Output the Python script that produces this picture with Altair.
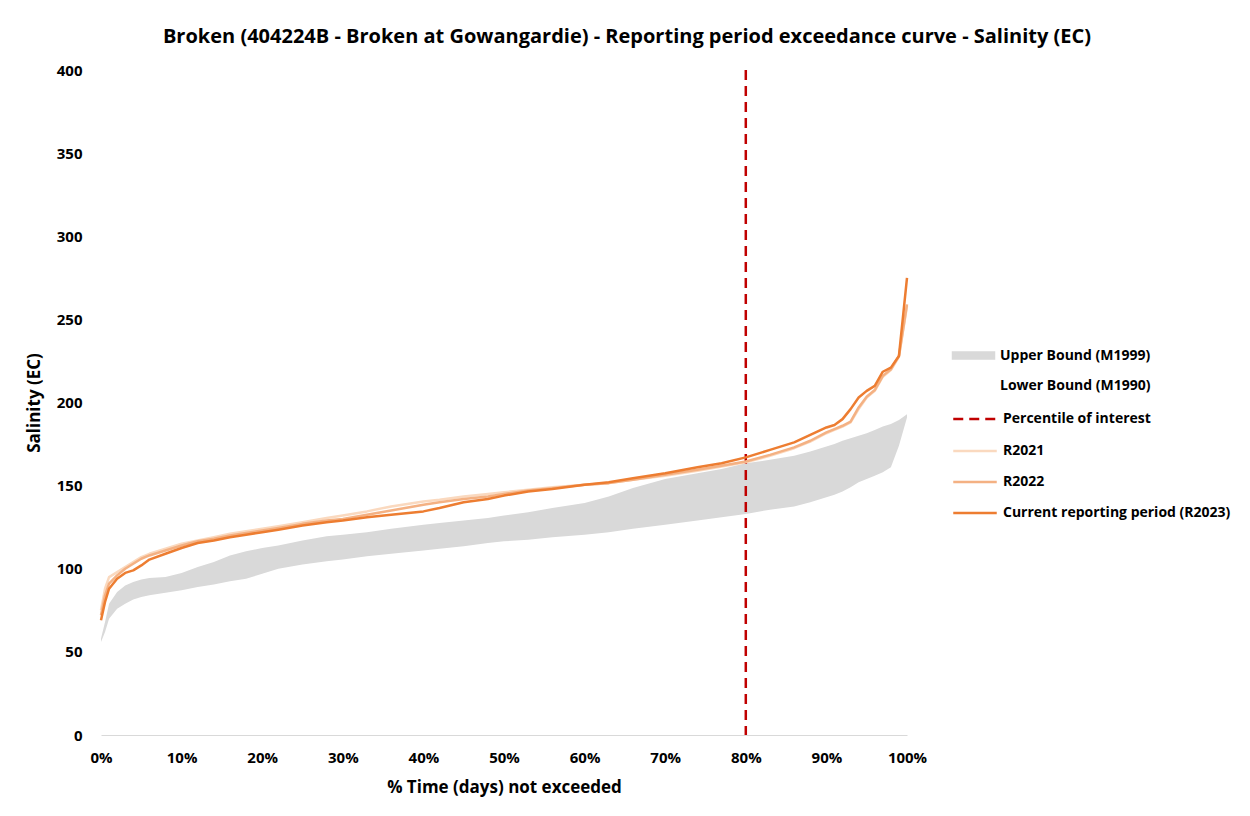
import altair as alt
import pandas as pd

pct = [0, 0.5, 1, 2, 3, 4, 5, 6, 8, 10, 12, 14, 16, 18, 20, 22, 25, 28, 30, 33, 36, 40, 42, 45,
       48, 50, 53, 56, 60, 63, 66, 70, 74, 77, 80, 83, 86, 88, 90, 91, 92, 93, 94, 95, 96, 97,
       98, 99, 100]

upper_m1999 = [58, 68, 79, 86, 90, 92, 93.5, 94.5, 95, 97.5, 101, 104, 108, 110.5, 112.5, 114,
               117, 119.5, 120.5, 122, 124, 126.5, 127.5, 129, 130.5, 132, 134, 136.5, 139.5, 143.5,
               148.5, 154, 157.5, 160, 163.5, 165.5, 168, 170.5, 173.5, 175, 177, 178.5, 180, 181.5,
               183.5, 185.5, 187, 189.5, 193]

lower_m1990 = [56, 62, 70, 76, 79, 81.5, 83, 84, 85.5, 87, 89, 90.5, 92.5, 94, 97, 100, 102.5,
               104.5, 105.5, 107.5, 109, 111, 112, 113.5, 115.5, 116.5, 117.5, 119, 120.5, 122,
               124, 126.5, 129, 131, 133, 135.5, 137.5, 140, 143, 144.5, 146.5, 149, 152, 154,
               156, 158, 161, 174, 191]

r2021 = [75, 88, 95, 98, 101, 104, 107, 109, 112, 115, 117, 119, 121, 122.5, 124, 125.5, 128,
         130.5, 132, 134.5, 137.5, 140.5, 141.5, 143.5, 145, 146, 147.5, 149, 150.5, 151.5, 153.5,
         156, 159, 161.5, 164, 168, 172.5, 176.5, 181.5, 183.5, 185.5, 188, 196, 203, 207, 215.5,
         219.5, 227.5, 258]

r2022 = [72, 84, 91, 96, 100, 103, 106, 108, 111, 114, 116.5, 118, 120, 121.5, 123, 124.5, 127,
         129, 130, 132.5, 135, 138.5, 140, 142, 143.5, 145, 147, 148.5, 150.5, 151.5, 153.5,
         156.5, 159.5, 162, 164.5, 168.5, 173, 177, 182, 184, 186, 188.5, 197, 203.5, 207.5, 216,
         220, 228, 259]

r2023 = [69, 80, 88, 94, 97.5, 99, 102, 105.5, 109, 112.5, 115.5, 117, 119, 120.5, 122, 123.5,
         126, 128, 129, 131, 132.5, 134.5, 136.5, 140, 142, 144, 146.5, 148, 150.5, 152, 154.5,
         157.5, 161, 163.5, 167, 171.5, 176, 180.5, 185, 186.5, 190, 196, 203, 207, 210, 218.5,
         221, 228, 275]

percentile_of_interest = [80]

band_labels = ["Upper Bound (M1999)", "Lower Bound (M1990)"]
band_colors = ["#D9D9D9", "#FFFFFF"]
rule_label = "Percentile of interest"
series_names = ["R2021", "R2022", "Current reporting period (R2023)"]
series_colors = ["#FAD9BF", "#F4B183", "#ED7D31"]

x_ticks = [0, 10, 20, 30, 40, 50, 60, 70, 80, 90, 100]
y_ticks = [0, 50, 100, 150, 200, 250, 300, 350, 400]

FONT = "Open Sans"

band_df = pd.DataFrame({"pct": pct, "upper": upper_m1999, "lower": lower_m1990,
                        "band": band_labels[0]})
rows = []
for name, vals in zip(series_names, [r2021, r2022, r2023]):
    for p, v in zip(pct, vals):
        rows.append({"pct": p, "value": v, "series": name})
lines_df = pd.DataFrame(rows)
rule_df = pd.DataFrame({"pct": percentile_of_interest, "kind": rule_label})

x_scale = alt.Scale(domain=[0, 100], nice=False, zero=False)
y_scale = alt.Scale(domain=[0, 400], nice=False)

x_axis = alt.Axis(values=x_ticks, labelExpr="datum.value + '%'", title="% Time (days) not exceeded",
                  domain=True, domainColor="#D9D9D9", domainWidth=1, ticks=False, grid=False,
                  labelPadding=15, titlePadding=14, labelFlush=False)
y_axis = alt.Axis(values=y_ticks, title="Salinity (EC)", domain=False, ticks=False, grid=False,
                  labelPadding=19, titlePadding=13)

common_legend = dict(title=None, orient="none", padding=0, rowPadding=8,
                     labelFont=FONT, labelFontSize=14, labelFontWeight="bold",
                     labelColor="#000000", labelOffset=12, labelLimit=400, symbolSize=841)

band = alt.Chart(band_df).mark_area(opacity=1).encode(
    x=alt.X("pct:Q", scale=x_scale, axis=x_axis),
    y=alt.Y("upper:Q", scale=y_scale, axis=y_axis),
    y2="lower:Q",
    fill=alt.Fill("band:N", scale=alt.Scale(domain=band_labels, range=band_colors),
                  legend=alt.Legend(legendX=858, legendY=271,
                                    symbolType="M-1.5,-0.3H1.5V0.3H-1.5Z",
                                    symbolStrokeWidth=0, symbolOpacity=1, **common_legend)),
)

rule = alt.Chart(rule_df).mark_rule(color="#C00000", strokeWidth=2.5).encode(
    x=alt.X("pct:Q", scale=x_scale),
    strokeDash=alt.StrokeDash("kind:N", scale=alt.Scale(domain=[rule_label], range=[[10, 6]]),
                              legend=alt.Legend(legendX=858, legendY=333,
                                                symbolType="M-1.5,0H1.5",
                                                symbolStrokeColor="#C00000",
                                                symbolStrokeWidth=2.5, symbolDash=[7, 4],
                                                **common_legend)),
)

stroke = alt.Stroke("series:N", scale=alt.Scale(domain=series_names, range=series_colors),
                    legend=alt.Legend(legendX=858, legendY=365, symbolType="M-1.5,0H1.5",
                                      symbolStrokeWidth=2.5, **common_legend))

line_layers = []
for name in series_names:
    line_layers.append(
        alt.Chart(lines_df).transform_filter(alt.datum.series == name)
        .mark_line(strokeWidth=2.5, strokeJoin="round")
        .encode(x=alt.X("pct:Q", scale=x_scale), y=alt.Y("value:Q", scale=y_scale), stroke=stroke)
    )

chart = alt.layer(band, rule, *line_layers).properties(
    width=806, height=665,
    background="#FFFFFF",
    title=alt.TitleParams(
        "Broken (404224B - Broken at Gowangardie) - Reporting period exceedance curve - Salinity (EC)",
        font=FONT, fontSize=20, fontWeight="bold", color="#000000", anchor="middle", dx=123,
        frame="group", offset=16),
    autosize=alt.AutoSizeParams(type="none"),
    padding={"left": 93, "top": 62, "right": 330, "bottom": 70},
).configure_view(stroke=None).configure_axis(
    labelFont=FONT, labelFontSize=15, labelFontWeight="bold", labelColor="#000000",
    titleFont=FONT, titleFontSize=17, titleFontWeight="bold", titleColor="#000000",
)

chart.save("out.html", embed_options={"renderer": "svg", "actions": False})
